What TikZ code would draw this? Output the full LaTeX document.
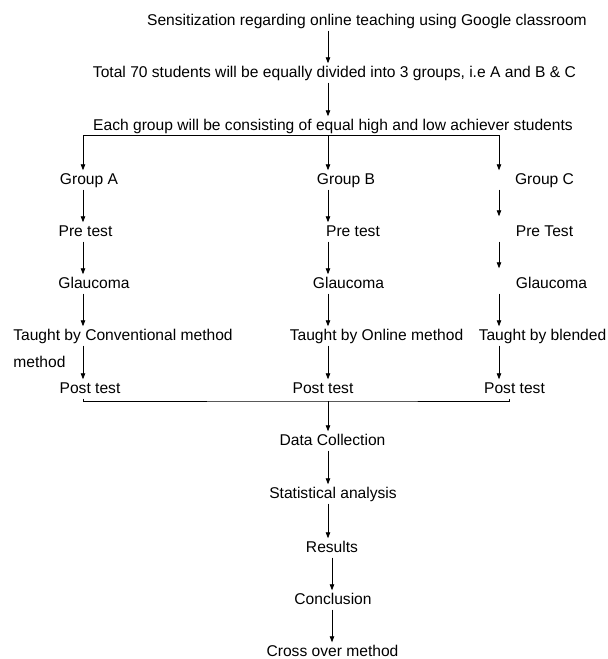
\documentclass[tikz,border=0pt]{standalone}
\usepackage{fontspec}
\setmainfont{Liberation Sans}
\usetikzlibrary{arrows.meta,calc}

\begin{document}
\begin{tikzpicture}[x=1pt,y=-1pt,
    txt/.style={inner xsep=0pt,inner ysep=2.5pt,text height=11pt,text depth=3pt,anchor=base,font=\fontsize{15.6}{18}\selectfont},
    arr/.style={-{Triangle[length=6pt,width=4.5pt]},line width=0.8pt}]
\useasboundingbox (0,0) rectangle (608,659);

\coordinate (colA) at (83,0);
\coordinate (colB) at (328,0);
\coordinate (colC) at (499,0);
\coordinate (colE) at (509,0);
\coordinate (colD) at (332,0);

\node[txt] (sens) at (367,25) {Sensitization regarding online teaching using Google classroom};
\node[txt] (total) at (334.5,77) {Total 70 students will be equally divided into 3 groups, i.e A and B \& C};
\node[txt] (each) at (333,130) {Each group will be consisting of equal high and low achiever students};

\node[txt] (grpA) at (89,184) {Group A};
\node[txt] (grpB) at (346,184) {Group B};
\node[txt] (grpC) at (544.5,184) {Group C};
\node[txt] (preA) at (85.5,236) {Pre test};
\node[txt] (preB) at (353,236) {Pre test};
\node[txt] (preC) at (544.5,236) {Pre Test};
\node[txt] (glauA) at (94,288) {Glaucoma};
\node[txt] (glauB) at (348.5,288) {Glaucoma};
\node[txt] (glauC) at (551.5,288) {Glaucoma};
\node[txt] (taughtA) at (123,340) {Taught by Conventional method};
\node[txt] (taughtA2) at (39.5,367) {method};
\node[txt] (taughtB) at (376.5,340) {Taught by Online method};
\node[txt] (taughtC) at (542.5,340) {Taught by blended};
\node[txt] (postA) at (90,393) {Post test};
\node[txt] (postB) at (323,393) {Post test};
\node[txt] (postC) at (514.5,393) {Post test};

\node[txt] (data) at (332.5,445) {Data Collection};
\node[txt] (stat) at (333,498) {Statistical analysis};
\node[txt] (results) at (332,552) {Results};
\node[txt] (concl) at (333,604) {Conclusion};
\node[txt] (cross) at (332.5,656) {Cross over method};

\draw[arr] (sens.south -| colB) -- (total.north -| colB);
\draw[arr] (total.south -| colB) -- (each.north -| colB);
\coordinate (split) at (each.south -| colB);
\draw[arr] (split) -| (grpA.north -| colA);
\draw[arr] (split) -- (grpB.north -| colB);
\draw[arr] (split) -| (grpC.north -| colC);

\draw[arr] (grpA.south -| colA) -- (preA.north -| colA);
\draw[arr] (grpB.south -| colB) -- (preB.north -| colB);
\draw[arr,shorten >=6pt] (grpC.south -| colC) -- (preC.north -| colC);
\draw[arr] (preA.south -| colA) -- (glauA.north -| colA);
\draw[arr] (preB.south -| colB) -- (glauB.north -| colB);
\draw[arr,shorten >=6pt] (preC.south -| colC) -- (glauC.north -| colC);
\draw[arr] (glauA.south -| colA) -- (taughtA.north -| colA);
\draw[arr] (glauB.south -| colB) -- (taughtB.north -| colB);
\draw[arr] (glauC.south -| colC) -- (taughtC.north -| colC);
\draw[arr] (taughtA.south -| colA) -- (postA.north -| colA);
\draw[arr] (taughtB.south -| colB) -- (postB.north -| colB);
\draw[arr] (taughtC.south -| colC) -- (postC.north -| colC);

\coordinate (join) at (328,401);
\draw[line width=0.8pt] (postA.south -| colA) |- (join) -| (postC.south -| colE);
\draw[arr] (join) -- (data.north -| join);
\draw[arr] (data.south -| colB) -- (stat.north -| colB);
\draw[arr] (stat.south -| colB) -- (results.north -| colB);
\draw[arr] (results.south -| colD) -- (concl.north -| colD);
\draw[arr] (concl.south -| colD) -- (cross.north -| colD);
\end{tikzpicture}
\end{document}
